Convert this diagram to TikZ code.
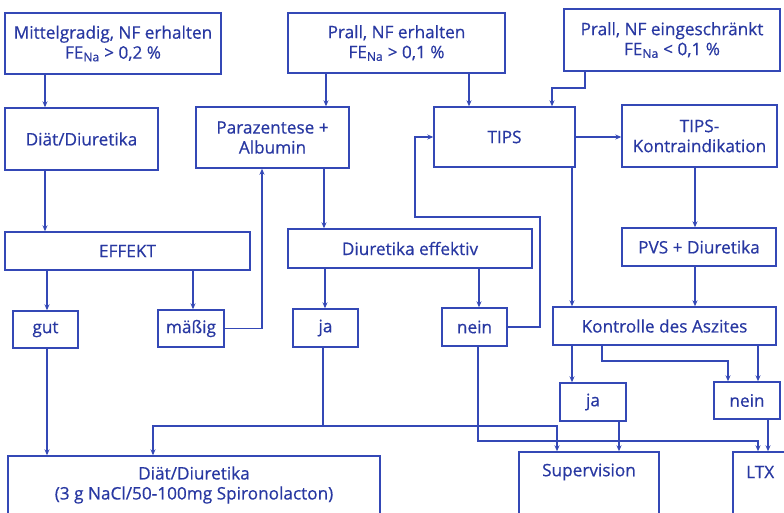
\documentclass[tikz,border=0pt]{standalone}
\usepackage{fontspec}
\setmainfont{Open Sans}[FakeBold=0.5]
\usetikzlibrary{arrows.meta}
\definecolor{flowline}{RGB}{52,72,182}
\definecolor{flowtext}{RGB}{40,56,162}
\tikzset{
  box/.style={draw=flowline, line width=1.4pt, rectangle, inner sep=0pt,
    text=flowtext, align=center, font=\fontsize{17.2}{20}\selectfont},
  lbl/.style={text=flowtext, inner sep=0pt, align=center, font=\fontsize{17.2}{20}\selectfont},
  arr/.style={draw=flowline, line width=1.4pt, -{Stealth[length=6pt,width=5pt]}},
  ln/.style={draw=flowline, line width=1.4pt},
}
\newcommand{\bx}[5]{\node[box, minimum width=#3pt, minimum height=#4pt] (#5) at (#1,#2)}
\begin{document}
\begin{tikzpicture}[x=1pt,y=-1pt]
\clip (0,0) rectangle (784,512);
\fill[white] (0,0) rectangle (784,512);

% top row
\bx{113}{43.5}{216}{61}{m1} {Mittelgradig, NF erhalten\\FE\textsubscript{Na} > 0,2 \%};
\bx{396.5}{43}{217}{60}{m2} {Prall, NF erhalten\\FE\textsubscript{Na} > 0,1 \%};
\bx{672}{40}{216}{62}{m3} {Prall, NF eingeschränkt\\FE\textsubscript{Na} < 0,1 \%};

% second row
\bx{81.5}{139}{153}{62}{dd} {Diät/Diuretika};
\bx{272.5}{137.5}{153}{61}{pa} {Parazentese +\\Albumin};
\bx{504.5}{137}{141}{60}{tips} {TIPS};
\bx{699.5}{136}{155}{62}{tk} {TIPS-\\Kontraindikation};

% third row
\bx{127.5}{251}{245}{38}{eff} {EFFEKT};
\bx{410}{248.5}{244}{39}{de} {Diuretika effektiv};
\bx{699}{247}{154}{38}{pvs} {PVS + Diuretika};

% fourth row
\bx{45.5}{329.5}{65}{37}{gut} {gut};
\bx{191}{328.5}{66}{37}{mae} {mäßig};
\bx{325.5}{328}{65}{38}{ja1} {ja};
\bx{474.5}{327}{65}{38}{nein1} {nein};
\bx{664.5}{326}{223}{38}{ka} {Kontrolle des Aszites};

% fifth row
\bx{593}{402}{66}{38}{ja2} {ja};
\bx{747}{400.5}{66}{37}{nein2} {nein};

% outcome boxes, running past the lower edge
\bx{194}{496}{372}{80}{bot} {};
\node[lbl] (botT) at (194,485) {Diät/Diuretika\\(3 g NaCl/50-100mg Spironolacton)};
\bx{589}{492}{140}{80}{sup} {};
\node[lbl] (supT) at (589,472) {Supervision};
\bx{768}{492}{70}{80}{ltx} {};
\node[lbl, anchor=west] (ltxT) at (746,472) {LTX};

% connectors
\draw[arr] (45,0 |- m1.south) -- (45,0 |- dd.north);
\draw[arr] (326,0 |- m2.south) -- (326,0 |- pa.north);
\draw[arr] (469,0 |- m2.south) -- (469,0 |- tips.north);
\draw[arr] (585,0 |- m3.south) |- (552,88) -- (552,0 |- tips.north);
\draw[arr] (tips.east) -- (tk.west |- tips.east);

\draw[arr] (45,0 |- dd.south) -- (45,0 |- eff.north);
\draw[arr] (324,0 |- pa.south) -- (324,0 |- de.north);
\draw[arr] (695,0 |- tk.south) -- (695,0 |- pvs.north);

\draw[arr] (47,0 |- eff.south) -- (47,0 |- gut.north);
\draw[arr] (193,0 |- eff.south) -- (193,0 |- mae.north);
\draw[arr] (mae.east) -| (262,0 |- pa.south);
\draw[arr] (325,0 |- de.south) -- (325,0 |- ja1.north);
\draw[arr] (479,0 |- de.south) -- (479,0 |- nein1.north);
\draw[arr] (nein1.east) -| (540,217) -| (415,0 |- tips.west) -- (tips.west);
\draw[arr] (572,0 |- tips.south) -- (572,0 |- ka.north);
\draw[arr] (695,0 |- pvs.south) -- (695,0 |- ka.north);

\draw[arr] (572,0 |- ka.south) -- (572,0 |- ja2.north);
\draw[arr] (602,0 |- ka.south) |- (728,361) -- (728,0 |- nein2.north);
\draw[arr] (758,0 |- ka.south) -- (758,0 |- nein2.north);
\draw[arr] (619,0 |- ja2.south) -- (619,0 |- sup.north);
\draw[arr] (768,0 |- nein2.south) -- (768,0 |- ltx.north);

\draw[arr] (47,0 |- gut.south) -- (47,0 |- bot.north);
\coordinate (jasplit) at (323,426);
\draw[ln] (323,0 |- ja1.south) -- (jasplit);
\draw[arr] (jasplit) -| (153,0 |- bot.north);
\draw[arr] (jasplit) -| (557,0 |- sup.north);
\draw[arr] (478,0 |- nein1.south) |- (758,441) -- (758,0 |- ltx.north);
\end{tikzpicture}
\end{document}
